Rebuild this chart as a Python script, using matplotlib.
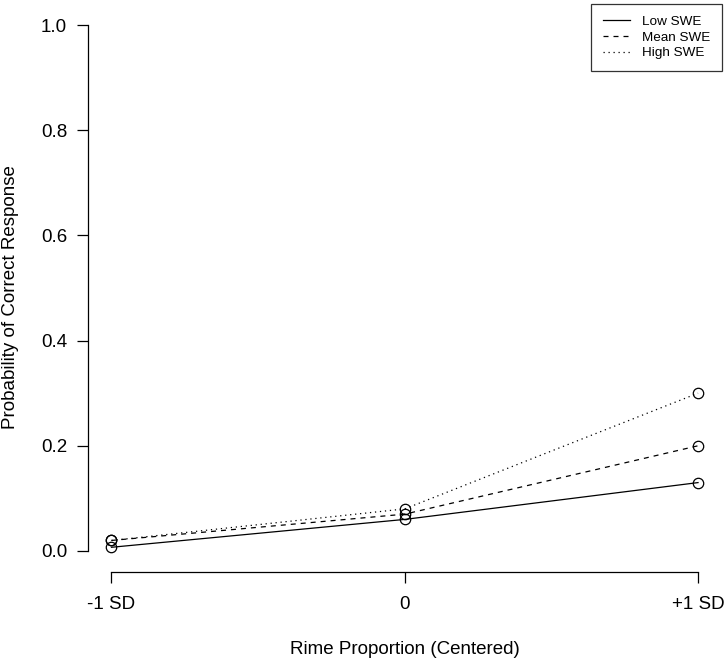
import matplotlib.pyplot as plt
from matplotlib.lines import Line2D
import numpy as np

plt.rcParams['font.family'] = ['Liberation Sans', 'DejaVu Sans']

# rime proportion positions (-1 SD, 0, +1 SD)
x_pos = [-1, 0, 1]
x_labels = ["-1 SD", "0", "+1 SD"]

# predicted probability of correct response by SWE level
low_swe = [0.007, 0.06, 0.13]
mean_swe = [0.02, 0.07, 0.20]
high_swe = [0.02, 0.08, 0.30]

series = [
    ("Low SWE", low_swe, "-"),
    ("Mean SWE", mean_swe, (0, (4, 4))),
    ("High SWE", high_swe, (0, (1, 3))),
]

W, H = 728, 664
fig = plt.figure(figsize=(W / 100, H / 100), dpi=100)
# plot region in pixels: left 88, right 721, top 4, bottom 572 (R-like)
L, R, T, B = 88, 721.5, 4, 572
ax = fig.add_axes([L / W, 1 - B / H, (R - L) / W, (B - T) / H])

for label, vals, ls in series:
    ax.plot(x_pos, vals, color="black", linestyle=ls, linewidth=0.9,
            marker="o", markersize=7.5, markerfacecolor="none",
            markeredgewidth=0.9)

# R default: 4% padding on each side
ax.set_xlim(-1.08, 1.08)
ax.set_ylim(-0.04, 1.04)

for side in ["top", "right"]:
    ax.spines[side].set_visible(False)
ax.spines["bottom"].set_bounds(-1, 1)
ax.spines["left"].set_bounds(0, 1)
ax.spines["bottom"].set_linewidth(0.9)
ax.spines["left"].set_linewidth(0.9)

ax.set_xticks(x_pos)
ax.set_xticklabels(x_labels)
ax.set_yticks(np.arange(0, 1.01, 0.2))
ax.set_yticklabels([f"{v:.1f}" for v in np.arange(0, 1.01, 0.2)])
ax.tick_params(direction="out", length=8, width=0.9, labelsize=13.5)
ax.tick_params(axis="x", pad=9)
ax.tick_params(axis="y", pad=7)

ax.set_xlabel("Rime Proportion (Centered)", fontsize=13.5)
ax.xaxis.set_label_coords(0.5, -(650 - B) / (B - T))
ax.xaxis.label.set_va("center")
ax.set_ylabel("Probability of Correct Response", fontsize=13.5)
ax.yaxis.set_label_coords(-(L - 11) / (R - L), (B - 297) / (B - T))
ax.yaxis.label.set_va("center")

handles = [Line2D([], [], color="black", linestyle=ls, linewidth=0.9)
           for _, _, ls in series]
leg = ax.legend(handles, [s[0] for s in series], loc="upper right",
                fontsize=9.7, frameon=True, fancybox=False,
                edgecolor="black", handlelength=2.0, handletextpad=0.9,
                labelspacing=0.25, borderpad=0.85, borderaxespad=0,
                bbox_to_anchor=(1.0, 1.0))
leg.get_frame().set_linewidth(0.9)

fig.savefig("out.png", dpi=100)
